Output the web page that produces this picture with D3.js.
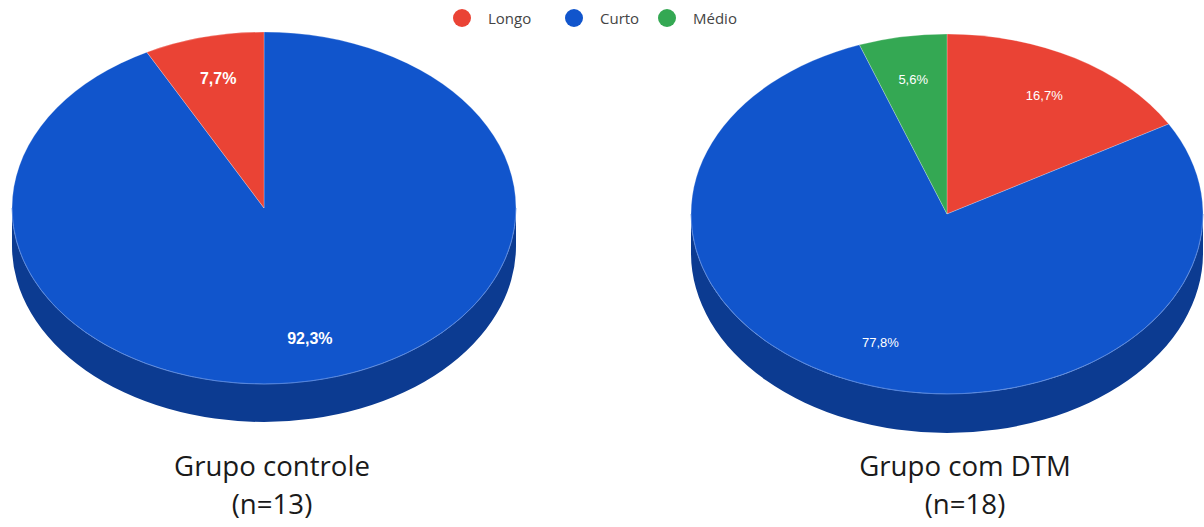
<!DOCTYPE html>
<html>
<head>
<meta charset="utf-8">
<script src="https://cdn.jsdelivr.net/npm/d3@7"></script>
<style>
  html, body { margin: 0; padding: 0; background: #fff; }
  svg { display: block; }
</style>
</head>
<body>
<svg id="chart" width="1204" height="527"></svg>
<script>
// ---- Data ----
const legendLabels = ["Longo", "Curto", "Médio"];
const legendColors = ["#EA4335", "#1155CC", "#34A853"];

const leftCategories = ["Curto", "Longo"];
const leftValues = [12, 1];
const leftTitle = ["Grupo controle", "(n=13)"];

const rightCategories = ["Longo", "Curto", "Médio"];
const rightValues = [3, 14, 1];
const rightTitle = ["Grupo com DTM", "(n=18)"];

// ---- Setup ----
const svg = d3.select("#chart");
const color = d3.scaleOrdinal().domain(legendLabels).range(legendColors);
const sideColor = d3.scaleOrdinal().domain(legendLabels).range(["#A32E25", "#0C3B91", "#247539"]);

// Legend
const legendX = [462, 574, 667];
const lg = svg.append("g");
legendLabels.forEach((l, i) => {
  lg.append("circle").attr("cx", legendX[i]).attr("cy", 18).attr("r", 9).attr("fill", color(l));
  lg.append("text").attr("x", legendX[i] + 26).attr("y", 24)
    .attr("font-family", "'Open Sans', sans-serif").attr("font-size", 15)
    .attr("fill", "#444").text(l);
});

function drawPie(cfg) {
  const { cats, vals, cx, cy, rx, ry, depth, labelSize, labelWeight, title, titleX } = cfg;
  const total = d3.sum(vals);
  const pie = d3.pie().sort(null).value(d => d.v)(cats.map((c, i) => ({ c, v: vals[i] })));
  const px = d3.scaleLinear().domain([-1, 1]).range([cx - rx, cx + rx]);
  const py = d3.scaleLinear().domain([-1, 1]).range([cy - ry, cy + ry]);
  const pt = (a, r = 1, dy = 0) => [px(r * Math.sin(a)), py(-r * Math.cos(a)) + dy];
  const g = svg.append("g");

  // sides (front half: angles between PI/2 and 3PI/2)
  pie.forEach(d => {
    const s = Math.max(d.startAngle, Math.PI / 2);
    const e = Math.min(d.endAngle, 3 * Math.PI / 2);
    if (e <= s) return;
    const p0 = pt(s), p1 = pt(e), p1b = pt(e, 1, depth), p0b = pt(s, 1, depth);
    const large = (e - s) > Math.PI ? 1 : 0;
    const path = `M${p0}A${rx},${ry} 0 ${large} 1 ${p1}L${p1b}A${rx},${ry} 0 ${large} 0 ${p0b}Z`;
    g.append("path").attr("d", path).attr("fill", sideColor(d.data.c));
  });

  // top faces
  pie.forEach(d => {
    const p0 = pt(d.startAngle), p1 = pt(d.endAngle);
    const large = (d.endAngle - d.startAngle) > Math.PI ? 1 : 0;
    const path = `M${cx},${cy}L${p0}A${rx},${ry} 0 ${large} 1 ${p1}Z`;
    g.append("path").attr("d", path).attr("fill", color(d.data.c))
      .attr("stroke", "#ffffff").attr("stroke-opacity", 0.35).attr("stroke-width", 0.7);
  });

  // front rim highlight
  const r0 = pt(Math.PI / 2), r1 = pt(3 * Math.PI / 2);
  g.append("path").attr("d", `M${r0}A${rx},${ry} 0 0 1 ${r1}`)
    .attr("fill", "none").attr("stroke", "#4a7fe0").attr("stroke-width", 1).attr("stroke-opacity", 0.7);

  // labels
  pie.forEach(d => {
    const mid = (d.startAngle + d.endAngle) / 2;
    const p = pt(mid, 0.76);
    g.append("text").attr("x", p[0]).attr("y", p[1]).attr("dy", "0.36em")
      .attr("text-anchor", "middle")
      .attr("font-family", "'Liberation Sans', Arial, sans-serif")
      .attr("font-size", labelSize).attr("font-weight", labelWeight)
      .attr("fill", "#ffffff")
      .text((d.data.v / total * 100).toFixed(1).replace(".", ",") + "%");
  });

  // title
  title.forEach((t, i) => {
    svg.append("text").attr("x", titleX).attr("y", 476 + i * 38)
      .attr("text-anchor", "middle")
      .attr("font-family", "'Open Sans', sans-serif").attr("font-size", 27.6)
      .attr("fill", "#1a1a1a").text(t);
  });
}

drawPie({ cats: leftCategories, vals: leftValues, cx: 264, cy: 208, rx: 252, ry: 176, depth: 38,
  labelSize: 16, labelWeight: "bold", title: leftTitle, titleX: 272 });
drawPie({ cats: rightCategories, vals: rightValues, cx: 947, cy: 214, rx: 256, ry: 180, depth: 39,
  labelSize: 13, labelWeight: "normal", title: rightTitle, titleX: 965 });
</script>
</body>
</html>
